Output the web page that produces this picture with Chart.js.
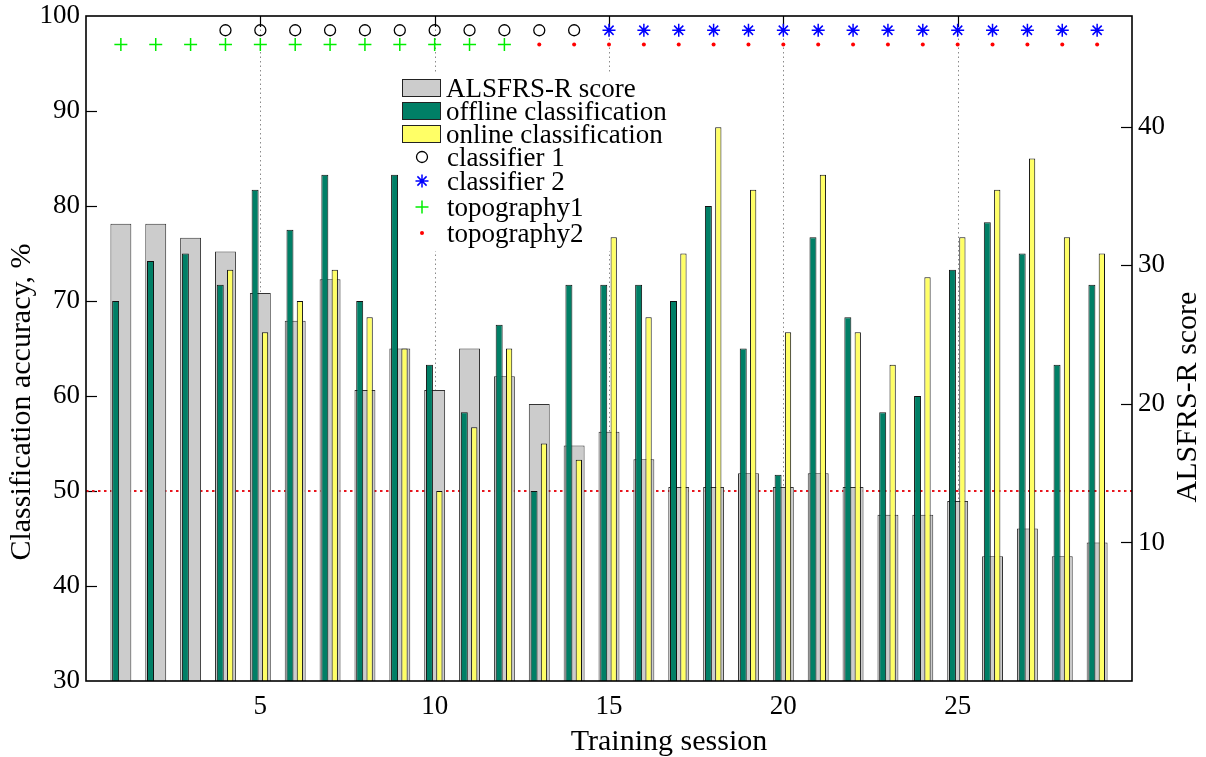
<!DOCTYPE html>
<html>
<head>
<meta charset="utf-8">
<title>Classification accuracy per training session</title>
<script src="https://cdn.jsdelivr.net/npm/chart.js@4.4.0/dist/chart.umd.min.js"></script>
<style>
  html, body { margin: 0; padding: 0; background: #fff; }
  #wrap { position: relative; width: 1206px; height: 757px; }
</style>
</head>
<body>
<div id="wrap"><canvas id="acc"></canvas></div>
<script>
'use strict';

// --- data -------------------------------------------------------------
const sessions = [1,2,3,4,5,6,7,8,9,10,11,12,13,14,15,16,17,18,19,20,21,22,23,24,25,26,27,28,29];
// ALSFRS-R score (right axis)
const alsfrs = [33,33,32,31,28,26,29,21,24,21,24,22,20,17,18,16,14,14,15,14,15,14,12,12,13,9,11,9,10];
// classification accuracy, % (left axis)
const offline = [70,74.2,75,71.7,81.7,77.5,83.3,70,83.3,63.3,58.3,67.5,50,71.7,71.7,71.7,70,80,65,51.7,76.7,68.3,58.3,60,73.3,78.3,75,63.3,71.7];
const online  = [null,null,null,73.3,66.7,70,73.3,68.3,65,50,56.7,65,55,53.3,76.7,68.3,75,88.3,81.7,66.7,83.3,66.7,63.3,72.5,76.7,81.7,85,76.7,75];
// which classifier / topography was used in each session
const classifier1 = [4,5,6,7,8,9,10,11,12,13,14];
const classifier2 = [15,16,17,18,19,20,21,22,23,24,25,26,27,28,29];
const topography1 = [1,2,3,4,5,6,7,8,9,10,11,12];
const topography2 = [13,14,15,16,17,18,19,20,21,22,23,24,25,26,27,28,29];
const classifierRow = 98.5;
const topographyRow = 97;
const chanceLevel = 50;

const xTicks = [5,10,15,20,25];
const accTicks = [30,40,50,60,70,80,90,100];
const scoreTicks = [10,20,30,40];

// --- look -------------------------------------------------------------
const SERIF = "'Liberation Serif', 'DejaVu Serif', serif";
const FS = 27;         // tick labels and key
const TITLE_FS = 30;   // axis titles
const OFF_SHIFT = -0.15, ON_SHIFT = 0.135;   // bar shift within a session, in sessions

const rowPts = (list, yv) => list.map(s => ({x: s, y: yv}));

// Bars are not grouped: each one sits exactly on its x value and its width is
// a fraction of the session spacing (each bar set has its own index axis).
const barBase = {type:'bar', grouped:false, categoryPercentage:1};
const datasets = [
  {...barBase, label:'ALSFRS-R score', xAxisID:'x', yAxisID:'y2', order:5,
   data: sessions.map((s,i) => ({x:s, y:alsfrs[i]})),
   backgroundColor:'#cccccc', borderColor:'#333', borderWidth:1, barPercentage:0.6},
  {...barBase, label:'offline classification', xAxisID:'xOff', yAxisID:'y', order:2,
   data: sessions.map((s,i) => ({x:s+OFF_SHIFT, y:offline[i]})),
   backgroundColor:'#007f66', borderColor:'#111', borderWidth:1, barPercentage:0.2},
  {...barBase, label:'online classification', xAxisID:'xOn', yAxisID:'y', order:2,
   data: sessions.map((s,i) => ({x:s+ON_SHIFT, y:online[i]})).filter(p => p.y !== null),
   backgroundColor:'#ffff66', borderColor:'#111', borderWidth:1, barPercentage:0.18},
  {type:'line', label:'classifier 1', xAxisID:'x', yAxisID:'y', order:0, showLine:false,
   data: rowPts(classifier1, classifierRow),
   pointStyle:'circle', pointRadius:5.5, pointBorderWidth:1.3, pointBorderColor:'#000', pointBackgroundColor:'rgba(0,0,0,0)'},
  {type:'line', label:'classifier 2', xAxisID:'x', yAxisID:'y', order:0, showLine:false,
   data: rowPts(classifier2, classifierRow),
   pointStyle:'star', pointRadius:6.5, pointBorderWidth:1.5, pointBorderColor:'#0000ff', pointBackgroundColor:'#0000ff'},
  {type:'line', label:'topography1', xAxisID:'x', yAxisID:'y', order:0, showLine:false,
   data: rowPts(topography1, topographyRow),
   pointStyle:'cross', pointRadius:6.5, pointBorderWidth:1.5, pointBorderColor:'#00ee00', pointBackgroundColor:'#00ee00'},
  {type:'line', label:'topography2', xAxisID:'x', yAxisID:'y', order:0, showLine:false,
   data: rowPts(topography2, topographyRow),
   pointStyle:'circle', pointRadius:2, pointBorderWidth:0, pointBorderColor:'#ff0000', pointBackgroundColor:'#ff0000'},
  // chance level, under everything else
  {type:'line', label:'', xAxisID:'x', yAxisID:'y', order:10,
   data: [{x:0, y:chanceLevel}, {x:30, y:chanceLevel}],
   borderColor:'#e8141c', borderWidth:2, borderDash:[2.5,3.5], pointRadius:0, fill:false}
];

// opaque key box and rows
const KEY = {left:399, top:73, width:278, height:178, swatchX:402, swatchW:39, swatchH:18,
             symX:422, textX:447, rows:[88,111,134,157,181,207,233]};

function drawSymbol(ctx, ds, x, y) {
  ctx.save();
  if (ds.type === 'bar') {
    ctx.fillStyle = ds.backgroundColor;
    ctx.strokeStyle = '#222'; ctx.lineWidth = 1;
    ctx.fillRect(KEY.swatchX, y - KEY.swatchH/2, KEY.swatchW, KEY.swatchH);
    ctx.strokeRect(KEY.swatchX + .5, y - KEY.swatchH/2 + .5, KEY.swatchW - 1, KEY.swatchH - 1);
  } else {
    ctx.fillStyle = ds.pointBackgroundColor;
    ctx.strokeStyle = ds.pointBorderColor;
    ctx.lineWidth = ds.pointBorderWidth;
    Chart.helpers.drawPoint(ctx, {pointStyle:ds.pointStyle, radius:ds.pointRadius,
      borderWidth:ds.pointBorderWidth, rotation:0}, x, y);
  }
  ctx.restore();
}

const decor = {
  id: 'decor',
  beforeDatasetsDraw(chart) {
    const {ctx, chartArea:a, scales:{x, y, y2}} = chart;
    ctx.save();
    // dotted verticals at the labelled sessions
    ctx.strokeStyle = '#8a8a8a'; ctx.lineWidth = 1; ctx.setLineDash([1.5, 3]);
    xTicks.forEach(v => {
      const px = Math.round(x.getPixelForValue(v)) + .5;
      ctx.beginPath(); ctx.moveTo(px, a.top); ctx.lineTo(px, a.bottom); ctx.stroke();
    });
    ctx.setLineDash([]);
    // inward tick marks
    ctx.strokeStyle = '#000'; ctx.lineWidth = 1.2;
    const TL = 11;
    xTicks.forEach(v => {
      const px = Math.round(x.getPixelForValue(v)) + .5;
      ctx.beginPath();
      ctx.moveTo(px, a.top); ctx.lineTo(px, a.top + TL);
      ctx.moveTo(px, a.bottom); ctx.lineTo(px, a.bottom - TL);
      ctx.stroke();
    });
    accTicks.slice(1, -1).forEach(v => {
      const py = Math.round(y.getPixelForValue(v)) + .5;
      ctx.beginPath(); ctx.moveTo(a.left, py); ctx.lineTo(a.left + TL, py); ctx.stroke();
    });
    scoreTicks.forEach(v => {
      const py = Math.round(y2.getPixelForValue(v)) + .5;
      ctx.beginPath(); ctx.moveTo(a.right, py); ctx.lineTo(a.right - TL, py); ctx.stroke();
    });
    // key background
    ctx.fillStyle = '#fff';
    ctx.fillRect(KEY.left, KEY.top, KEY.width, KEY.height);
    ctx.restore();
  },
  afterDatasetsDraw(chart) {
    const {ctx, chartArea:a} = chart;
    ctx.save();
    // frame
    ctx.strokeStyle = '#000'; ctx.lineWidth = 1.6;
    ctx.strokeRect(a.left, a.top, a.right - a.left, a.bottom - a.top);
    // key
    ctx.font = FS + 'px ' + SERIF;
    ctx.textBaseline = 'alphabetic'; ctx.textAlign = 'left';
    chart.data.datasets.filter(d => d.label).forEach((ds, i) => {
      const ry = KEY.rows[i];
      drawSymbol(ctx, ds, KEY.symX, ry);
      ctx.fillStyle = '#000';
      ctx.fillText(ds.label, ds.type === 'bar' ? KEY.textX - 1 : KEY.textX, ry + 9);
    });
    // axis titles
    ctx.font = TITLE_FS + 'px ' + SERIF;
    ctx.fillStyle = '#000';
    ctx.textAlign = 'center'; ctx.textBaseline = 'middle';
    ctx.fillText('Training session', 669, 742);
    ctx.save(); ctx.translate(22, 402); ctx.rotate(-Math.PI/2);
    ctx.fillText('Classification accuracy, %', 0, 0); ctx.restore();
    ctx.save(); ctx.translate(1188, 397); ctx.rotate(-Math.PI/2);
    ctx.fillText('ALSFRS-R score', 0, 0); ctx.restore();
    ctx.restore();
  }
};

const hiddenX = {type:'linear', min:0, max:30, offset:false, display:false};
// fixed axis sizes; the end labels may overhang the plot edges
const fitV = w => s => { s.width = w; s.paddingTop = 0; s.paddingBottom = 0; };

new Chart(document.getElementById('acc'), {
  type: 'bar',
  data: {datasets},
  options: {
    responsive: true, maintainAspectRatio: false, animation: false,
    layout: {padding: {top:16, left:0, right:0, bottom:0}},
    plugins: {legend: {display:false}, tooltip: {enabled:false}},
    scales: {
      x: {type:'linear', min:0, max:30, offset:false, position:'bottom',
          grid:{display:false, drawTicks:false}, border:{display:false},
          ticks:{stepSize:5, autoSkip:false, maxRotation:0, padding:10, color:'#000',
                 font:{family:SERIF, size:FS},
                 callback: v => xTicks.includes(v) ? String(v) : ''},
          afterFit: s => { s.height = 76; s.paddingLeft = 0; s.paddingRight = 0; }},
      xOff: hiddenX,
      xOn: hiddenX,
      y: {type:'linear', position:'left', min:30, max:100,
          grid:{display:false, drawTicks:false}, border:{display:false},
          ticks:{stepSize:10, padding:6, color:'#000', font:{family:SERIF, size:FS},
                 callback: v => accTicks.includes(v) ? String(v) : ''},
          afterFit: fitV(86)},
      y2: {type:'linear', position:'right', min:0, max:48,
           grid:{display:false, drawTicks:false}, border:{display:false},
           ticks:{stepSize:10, includeBounds:false, padding:6, color:'#000', font:{family:SERIF, size:FS},
                  callback: v => scoreTicks.includes(v) ? String(v) : ''},
           afterFit: fitV(74)}
    }
  },
  plugins: [decor]
});
</script>
</body>
</html>
